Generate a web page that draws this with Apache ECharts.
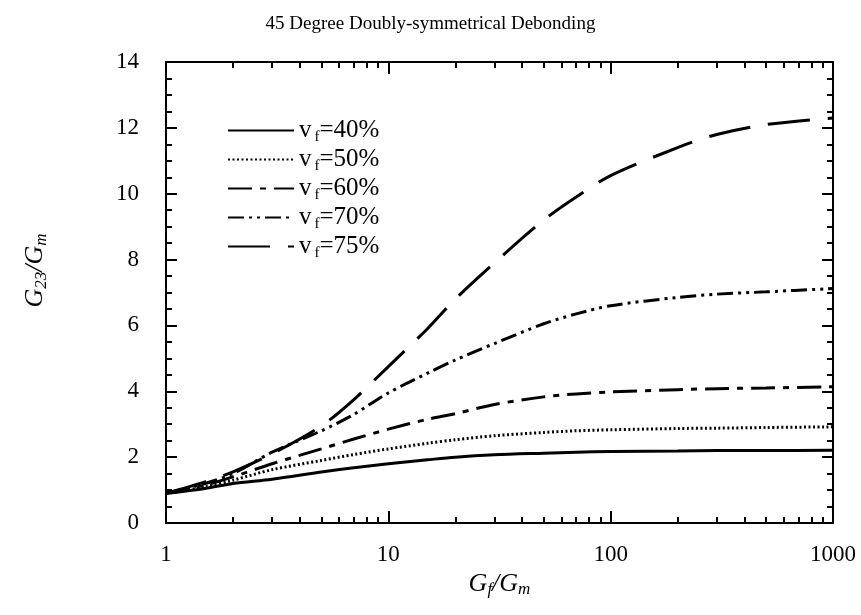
<!DOCTYPE html>
<html lang="en">
<head>
    <meta charset="UTF-8">
    <title>45 Degree Doubly-symmetrical Debonding</title>
    <style>
        html, body { margin: 0; padding: 0; background: #fff; }
        #chart-box { width: 861px; height: 615px; }
    </style>
</head>
<body>
<div id="chart-box"></div>
<script src="https://cdn.jsdelivr.net/npm/echarts@6/dist/echarts.min.js"></script>
<script>
    // Gf/Gm values (log axis)
    var ratio = [1, 1.5, 2, 3, 5, 7, 10, 15, 20, 30, 50, 70, 100, 200, 300, 500, 1000];

    // G23/Gm
    var vf40 = [0.9, 1.05, 1.2, 1.33, 1.55, 1.68, 1.8, 1.92, 2.0, 2.07, 2.12, 2.15, 2.17, 2.19, 2.2, 2.2, 2.21];
    var vf50 = [0.9, 1.1, 1.3, 1.62, 1.9, 2.08, 2.25, 2.42, 2.53, 2.65, 2.75, 2.8, 2.83, 2.87, 2.88, 2.9, 2.92];
    var vf60 = [0.9, 1.15, 1.4, 1.8, 2.25, 2.55, 2.85, 3.15, 3.32, 3.6, 3.83, 3.92, 3.98, 4.05, 4.08, 4.1, 4.14];
    var vf70 = [0.9, 1.2, 1.5, 2.15, 2.8, 3.3, 3.95, 4.55, 4.95, 5.45, 6.05, 6.35, 6.6, 6.85, 6.95, 7.02, 7.12];
    var vf75 = [0.9, 1.25, 1.55, 2.1, 2.95, 3.75, 4.75, 5.9, 6.8, 7.9, 9.2, 9.9, 10.55, 11.4, 11.8, 12.1, 12.3];

    var xMajor = [1, 10, 100, 1000];
    var xMinor = [2, 3, 4, 5, 6, 7, 8, 9, 20, 30, 40, 50, 60, 70, 80, 90, 200, 300, 400, 500, 600, 700, 800, 900];

    var seriesNames = ['40', '50', '60', '70', '75'];
    var seriesData = [vf40, vf50, vf60, vf70, vf75];
    var dashes = ['solid', [2, 2.5], [24, 8, 6, 8], [16, 5, 3, 5, 3, 5], [42, 18]];

    var serif = '"Liberation Serif", "DejaVu Serif", serif';

    var myChart = echarts.init(document.getElementById('chart-box'));

    function pairs(ys) {
        return ratio.map(function (x, i) { return [x, ys[i]]; });
    }

    var nameRich = {
        i: { fontFamily: serif, fontStyle: 'italic', fontSize: 26, color: '#000' },
        s: { fontFamily: serif, fontStyle: 'italic', fontSize: 17, color: '#000', verticalAlign: 'bottom', padding: [12, 0, 0, 0] }
    };

    function xAxisCfg(pos, ticks, len, main) {
        return {
            type: 'log',
            logBase: 10,
            min: 1,
            max: 1000,
            position: pos,
            axisLine: { show: main, lineStyle: { color: '#000', width: 2 } },
            axisTick: { show: true, inside: true, length: len, customValues: ticks,
                        lineStyle: { color: '#000', width: 2 } },
            axisLabel: { show: main && pos === 'bottom', customValues: xMajor, color: '#000',
                         fontFamily: serif, fontSize: 23, margin: 20,
                         formatter: function (v) { return String(Math.round(v)); } },
            splitLine: { show: false },
            name: main && pos === 'bottom' ? '{i|G}{s|f}{i|/G}{s|m}' : '',
            nameLocation: 'middle',
            nameGap: 44,
            nameTextStyle: { rich: nameRich }
        };
    }

    function yAxisCfg(pos, main) {
        return {
            type: 'value',
            min: 0,
            max: 14,
            interval: 2,
            position: pos,
            axisLine: { show: true, lineStyle: { color: '#000', width: 2 } },
            axisTick: { show: true, inside: true, length: 11, lineStyle: { color: '#000', width: 2 } },
            minorTick: { show: true, splitNumber: 4, length: 6, lineStyle: { color: '#000', width: 2 } },
            axisLabel: { show: main, color: '#000', fontFamily: serif, fontSize: 23, margin: 27 },
            splitLine: { show: false },
            name: main ? '{i|G}{s|23}{i|/G}{s|m}' : '',
            nameLocation: 'middle',
            nameGap: 116,
            nameRotate: 90,
            nameTextStyle: { rich: nameRich, padding: [0, 0, 0, 44] }
        };
    }

    var option = {
        backgroundColor: '#fff',
        animation: false,
        title: {
            text: '45 Degree Doubly-symmetrical Debonding',
            left: 'center',
            top: 10,
            textStyle: { fontFamily: serif, fontSize: 19, fontWeight: 'normal', color: '#000' }
        },
        grid: { left: 166, right: 28, top: 62, bottom: 92 },
        legend: {
            orient: 'vertical',
            left: 222,
            top: 113,
            itemWidth: 66,
            itemHeight: 14,
            itemGap: 2,
            data: seriesNames.map(function (n) { return 'vf' + n; }),
            itemStyle: { opacity: 0 },
            formatter: function (name) {
                return '{t|v}{s|f}{t|=' + name.slice(2) + '%}';
            },
            textStyle: {
                color: '#000',
                rich: {
                    t: { fontFamily: serif, fontSize: 25, color: '#000', lineHeight: 26 },
                    s: { fontFamily: serif, fontSize: 15, color: '#000', verticalAlign: 'bottom', padding: [14, 0, 0, 3] }
                }
            }
        },
        xAxis: [
            xAxisCfg('bottom', xMajor, 12, true),
            xAxisCfg('bottom', xMinor, 6, false),
            xAxisCfg('top', xMajor, 12, true),
            xAxisCfg('top', xMinor, 6, false)
        ],
        yAxis: [yAxisCfg('left', true), yAxisCfg('right', false)],
        series: seriesNames.map(function (n, i) {
            return {
                name: 'vf' + n,
                type: 'line',
                xAxisIndex: 0,
                yAxisIndex: 0,
                smooth: 0.3,
                symbol: 'none',
                data: pairs(seriesData[i]),
                lineStyle: { color: '#000', width: 3, type: dashes[i] },
                itemStyle: { color: '#000' }
            };
        })
    };

    myChart.setOption(option);
</script>
</body>
</html>
